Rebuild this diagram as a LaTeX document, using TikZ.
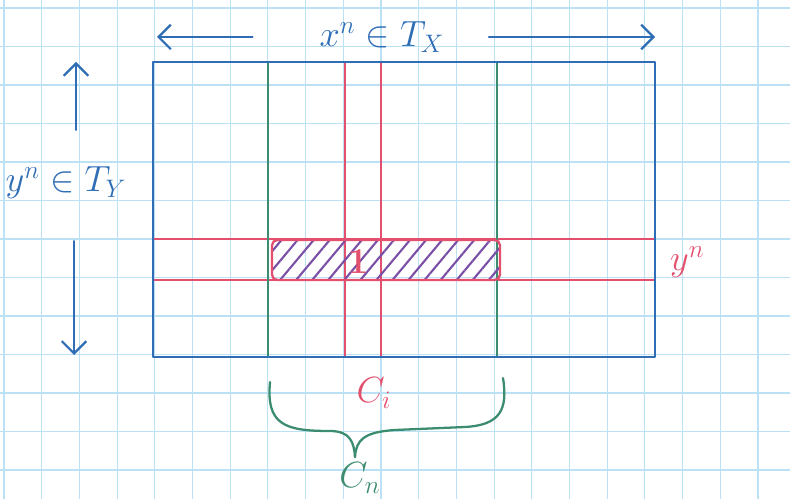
\documentclass[tikz,border=0pt]{standalone}
\usepackage{amsmath}
\usepackage{amssymb}
\usepackage{tikz}
\usetikzlibrary{arrows.meta,positioning,calc,patterns.meta}
\definecolor{penblue}{HTML}{2F6DB5}
\definecolor{pengreen}{HTML}{3C8C70}
\definecolor{penred}{HTML}{E2506E}
\definecolor{penpurple}{HTML}{7A4FA6}
\definecolor{gridblue}{HTML}{BCE1F5}

\begin{document}
\begin{tikzpicture}[x=0.02cm,y=-0.02cm,
  pen/.style={line width=1.3pt,line cap=round,line join=round},
  thinpen/.style={line width=0.9pt,line cap=round},
  arr/.style={pen,penblue,-{Straight Barb[length=7pt,width=14pt]}},
  lbl/.style={font=\fontsize{22}{26}\selectfont,inner sep=1pt},
]
  \useasboundingbox (0,0) rectangle (790,499);

  % squared paper
  \foreach \gx in {0,...,20}
    \draw[gridblue,line width=0.6pt] ({4+37.7*\gx},0) -- ({4+37.7*\gx},499);
  \foreach \gy in {0,...,12}
    \draw[gridblue,line width=0.6pt] (0,{8+38.5*\gy}) -- (790,{8+38.5*\gy});

  % corners of the big table
  \coordinate (nw) at (153,62);
  \coordinate (se) at (655,357);

  % the row y^n and the columns of x^n
  \draw[thinpen,penred] (153,239) -- (655,239);
  \draw[thinpen,penred] (153,280) -- (655,280);
  \draw[thinpen,penred] (345,62) -- (345,357);
  \draw[thinpen,penred] (381,62) -- (381,357);
  \draw[thinpen,pengreen] (268,62) -- (268,357);
  \draw[thinpen,pengreen] (497,62) -- (497,357);

  % shaded cells
  \node[draw=penred,line width=1.3pt,rounded corners=3pt,
        pattern={Lines[angle=50,distance=7pt,line width=1.2pt]},pattern color=penpurple,
        minimum width=4.56cm,minimum height=0.8cm,inner sep=0pt] (cell) at (386,260) {};
  \node[lbl,penred] (one) at (358,262) {$\mathbf{1}$};

  \draw[pen,penblue] (nw) rectangle (se);

  % axis labels
  \node[lbl,penblue] (xlab) at (382,37) {$x^n \in T_X$};
  \coordinate (xl) at (157,37);
  \coordinate (xr) at (655,37);
  \draw[arr,shorten <=1.3cm] (xlab) -- (xl);
  \draw[arr,shorten <=0.85cm] (xlab) -- (xr);

  \node[lbl,penblue] (ylab) at (66,183) {$y^n \in T_Y$};
  \coordinate (yt) at (76,62);
  \coordinate (yb) at (74,355);
  \draw[arr,shorten <=0.7cm] (ylab.north -| yt) -- (yt);
  \draw[arr,shorten <=0.8cm] (ylab.south -| yb) -- (yb);

  \node[lbl,penred,right] (yn) at (668,262) {$y^n$};

  % brace under the green columns
  \coordinate (bl) at (270,382);
  \coordinate (btip) at (355,457);
  \coordinate (br) at (503,378);
  \draw[pen,pengreen] (bl) .. controls (266,425) and (285,431) .. (330,431)
    .. controls (350,431) and (354,442) .. (btip);
  \draw[pen,pengreen] (btip) .. controls (356,440) and (364,432) .. (395,430)
    -- (465,427) .. controls (500,425) and (508,410) .. (br);

  \node[lbl,penred] (ci) at (374,393) {$C_i$};
  \node[lbl,pengreen] (cn) at (360,478) {$C_n$};
\end{tikzpicture}
\end{document}
